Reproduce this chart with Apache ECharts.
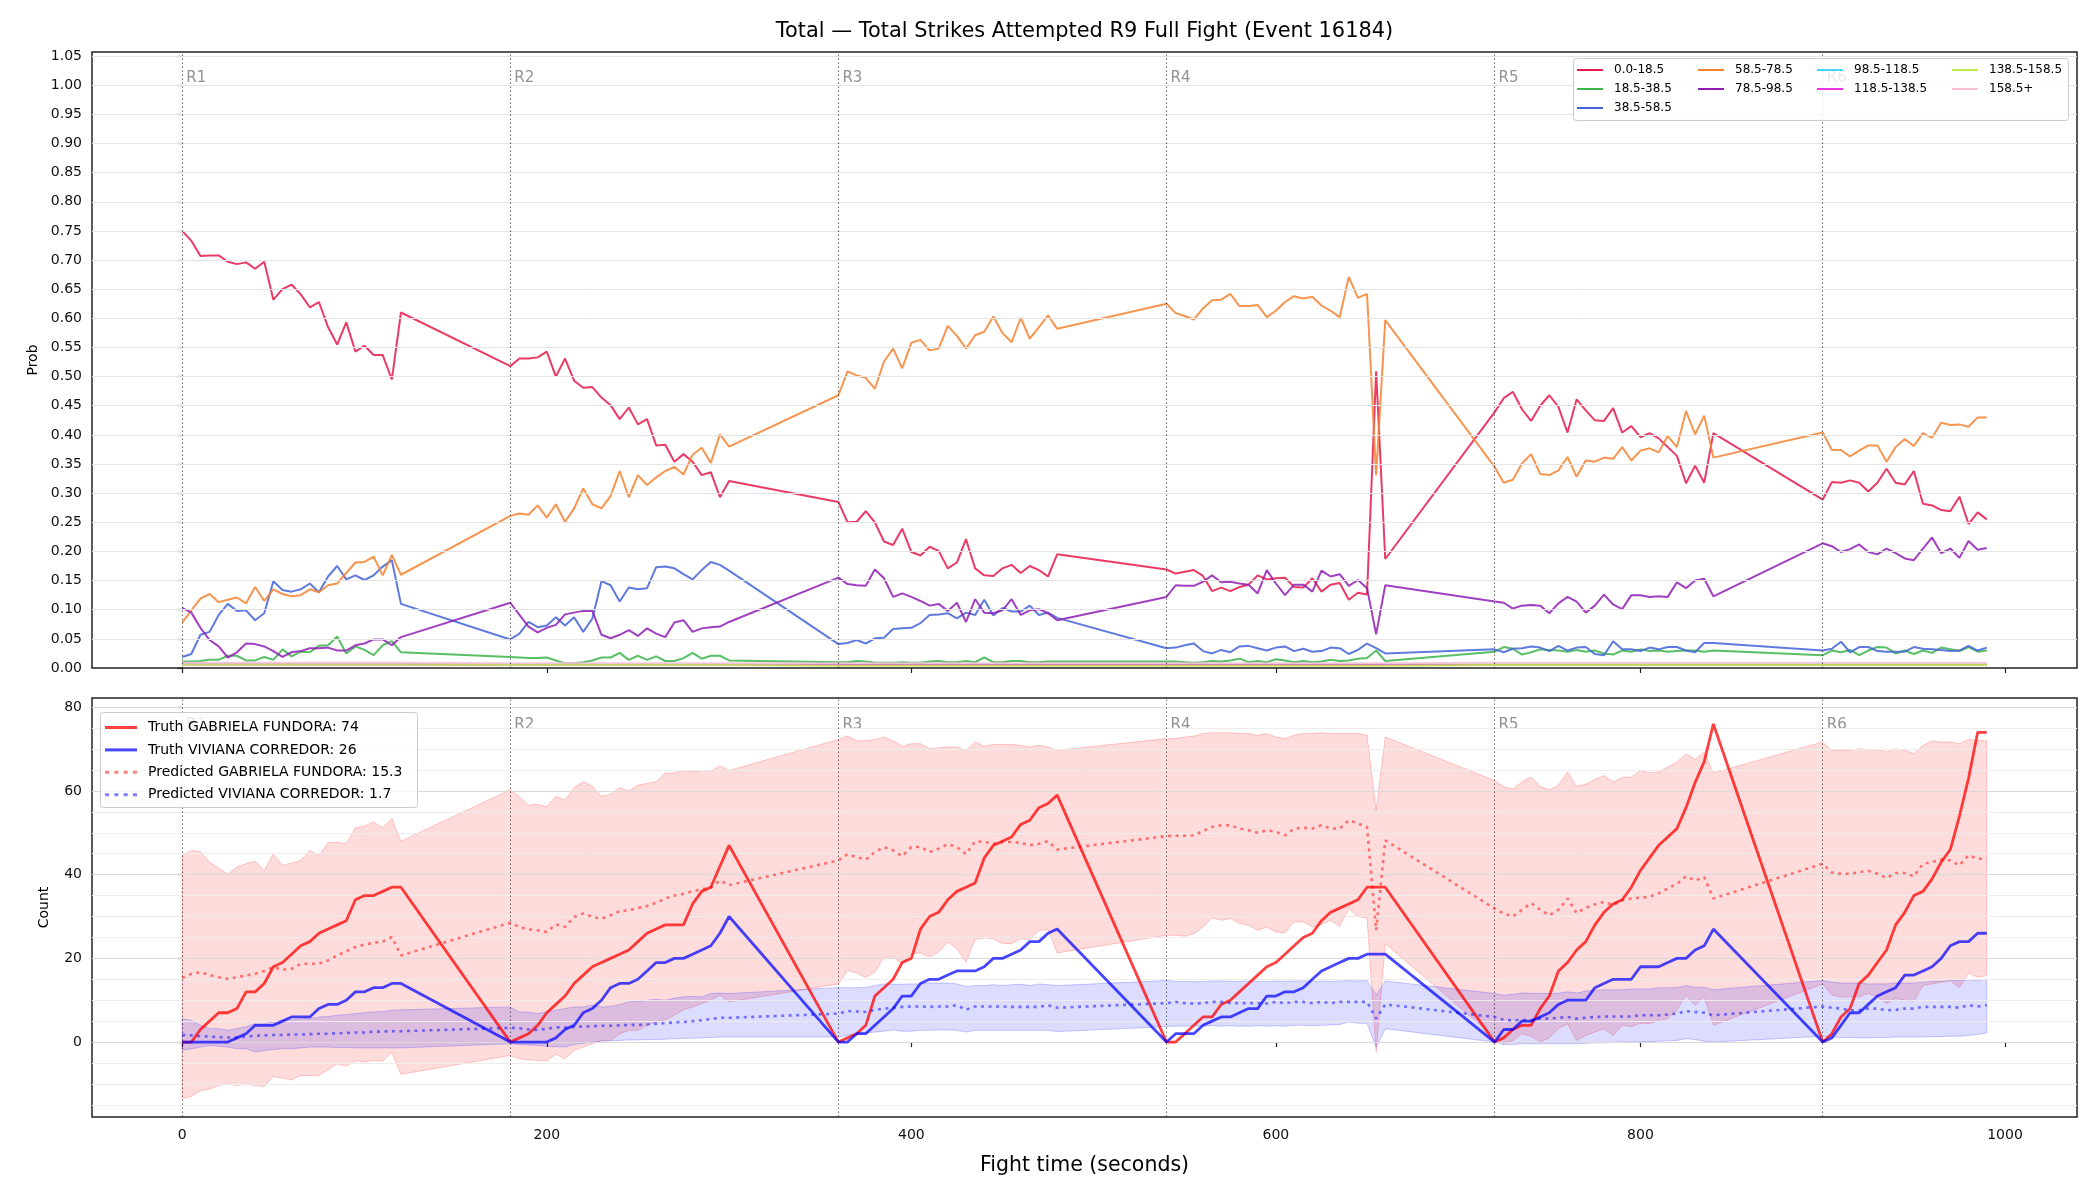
<!DOCTYPE html>
<html><head><meta charset="utf-8">
<script src="https://cdn.jsdelivr.net/npm/echarts@6/dist/echarts.min.js"></script>
<style>html,body{margin:0;padding:0;background:#fff}#c{width:2100px;height:1200px}</style>
</head><body><div id="c"></div>
<script>
// ---------- DATA ----------
const times = [
  0,5,10,15,20,25,30,35,40,45,50,55,60,65,70,75,80,85,90,95,100,105,110,115,120,
  180,185,190,195,200,205,210,215,220,225,230,235,240,245,250,255,260,265,270,275,280,285,290,295,300,
  360,365,370,375,380,385,390,395,400,405,410,415,420,425,430,435,440,445,450,455,460,465,470,475,480,
  540,545,550,555,560,565,570,575,580,585,590,595,600,605,610,615,620,625,630,635,640,645,650,655,660,
  720,725,730,735,740,745,750,755,760,765,770,775,780,785,790,795,800,805,810,815,820,825,830,835,840,
  900,905,910,915,920,925,930,935,940,945,950,955,960,965,970,975,980,985,990
];
const binNames = ['0.0-18.5','18.5-38.5','38.5-58.5','58.5-78.5','78.5-98.5','98.5-118.5','118.5-138.5','138.5-158.5','158.5+'];

const prob_0_18 = [
  0.750,0.733,0.707,0.708,0.708,0.697,0.693,0.696,0.685,0.697,0.632,0.650,0.658,0.641,0.619,0.628,0.585,0.555,0.593,0.543,0.553,0.537,0.537,0.495,0.610,
  0.518,0.531,0.531,0.533,0.543,0.500,0.531,0.493,0.481,0.482,0.464,0.451,0.427,0.447,0.418,0.427,0.382,0.383,0.354,0.367,0.354,0.331,0.336,0.293,0.321,
  0.285,0.250,0.251,0.269,0.250,0.217,0.211,0.239,0.199,0.193,0.208,0.201,0.171,0.181,0.221,0.171,0.159,0.158,0.171,0.177,0.163,0.175,0.168,0.157,0.195,
  0.169,0.162,0.165,0.168,0.158,0.132,0.138,0.132,0.139,0.143,0.159,0.152,0.154,0.155,0.139,0.138,0.154,0.131,0.143,0.146,0.117,0.129,0.126,0.509,0.187,
  0.439,0.463,0.474,0.444,0.424,0.450,0.468,0.448,0.404,0.461,0.442,0.425,0.424,0.446,0.404,0.415,0.396,0.403,0.394,0.379,0.364,0.317,0.347,0.318,0.403,
  0.289,0.319,0.318,0.322,0.318,0.303,0.318,0.342,0.318,0.315,0.338,0.282,0.279,0.271,0.269,0.294,0.247,0.267,0.255
];
const prob_18_38 = [
  0.011,0.011,0.012,0.014,0.014,0.021,0.021,0.013,0.013,0.019,0.014,0.032,0.020,0.028,0.027,0.038,0.039,0.054,0.025,0.037,0.031,0.022,0.039,0.046,0.027,
  0.019,0.018,0.017,0.017,0.018,0.013,0.008,0.008,0.010,0.013,0.018,0.018,0.026,0.014,0.021,0.014,0.020,0.012,0.012,0.017,0.026,0.016,0.021,0.021,0.013,
  0.010,0.010,0.012,0.011,0.009,0.009,0.009,0.010,0.009,0.009,0.011,0.012,0.010,0.010,0.012,0.010,0.018,0.010,0.010,0.012,0.012,0.010,0.010,0.011,0.011,
  0.011,0.011,0.010,0.009,0.010,0.012,0.011,0.013,0.016,0.010,0.012,0.010,0.015,0.013,0.010,0.012,0.010,0.011,0.014,0.012,0.013,0.016,0.017,0.030,0.012,
  0.028,0.036,0.033,0.023,0.027,0.032,0.031,0.030,0.028,0.031,0.028,0.030,0.025,0.023,0.030,0.028,0.032,0.029,0.030,0.028,0.029,0.030,0.030,0.028,0.030,
  0.022,0.030,0.027,0.031,0.022,0.030,0.036,0.035,0.025,0.030,0.024,0.030,0.026,0.035,0.032,0.029,0.036,0.028,0.030
];
const prob_38_58 = [
  0.019,0.024,0.057,0.062,0.091,0.110,0.098,0.099,0.082,0.094,0.149,0.134,0.131,0.135,0.145,0.130,0.157,0.175,0.152,0.159,0.151,0.159,0.174,0.185,0.110,
  0.049,0.059,0.079,0.070,0.073,0.087,0.073,0.087,0.062,0.085,0.149,0.142,0.114,0.138,0.135,0.137,0.173,0.174,0.171,0.161,0.152,0.168,0.182,0.177,0.167,
  0.041,0.043,0.048,0.042,0.051,0.052,0.067,0.068,0.069,0.077,0.091,0.092,0.094,0.085,0.095,0.091,0.117,0.090,0.103,0.097,0.097,0.107,0.091,0.095,0.086,
  0.034,0.035,0.039,0.042,0.029,0.025,0.031,0.027,0.037,0.038,0.034,0.030,0.035,0.037,0.029,0.033,0.028,0.029,0.035,0.034,0.024,0.031,0.042,0.034,0.025,
  0.032,0.027,0.033,0.034,0.037,0.035,0.029,0.038,0.030,0.035,0.036,0.024,0.022,0.046,0.032,0.032,0.029,0.035,0.032,0.036,0.036,0.030,0.027,0.043,0.043,
  0.030,0.033,0.045,0.027,0.036,0.036,0.029,0.028,0.028,0.028,0.036,0.033,0.032,0.031,0.029,0.030,0.038,0.030,0.035
];
const prob_58_78 = [
  0.078,0.099,0.119,0.127,0.113,0.117,0.121,0.111,0.139,0.115,0.135,0.127,0.123,0.125,0.135,0.130,0.142,0.145,0.163,0.181,0.182,0.191,0.159,0.194,0.160,
  0.261,0.265,0.263,0.279,0.258,0.281,0.251,0.274,0.308,0.281,0.274,0.295,0.338,0.293,0.331,0.314,0.327,0.338,0.345,0.332,0.366,0.378,0.352,0.401,0.380,
  0.468,0.509,0.502,0.498,0.479,0.526,0.548,0.514,0.558,0.563,0.545,0.548,0.587,0.570,0.548,0.571,0.577,0.603,0.575,0.559,0.601,0.565,0.585,0.605,0.582,
  0.625,0.609,0.604,0.598,0.617,0.631,0.632,0.642,0.621,0.621,0.623,0.602,0.613,0.628,0.638,0.634,0.637,0.622,0.613,0.602,0.671,0.635,0.642,0.331,0.597,
  0.345,0.318,0.323,0.351,0.367,0.333,0.331,0.339,0.362,0.328,0.356,0.354,0.361,0.359,0.379,0.356,0.373,0.377,0.370,0.398,0.379,0.441,0.401,0.433,0.361,
  0.404,0.374,0.374,0.363,0.373,0.382,0.382,0.354,0.379,0.393,0.381,0.403,0.395,0.421,0.417,0.418,0.414,0.430,0.430
];
const prob_78_98 = [
  0.103,0.095,0.069,0.048,0.037,0.018,0.027,0.042,0.041,0.037,0.029,0.019,0.027,0.029,0.034,0.034,0.035,0.030,0.030,0.039,0.042,0.049,0.049,0.039,0.053,
  0.112,0.091,0.071,0.061,0.069,0.074,0.092,0.095,0.098,0.098,0.057,0.051,0.057,0.065,0.055,0.068,0.059,0.053,0.078,0.082,0.062,0.068,0.070,0.071,0.079,
  0.155,0.144,0.142,0.141,0.169,0.154,0.122,0.128,0.122,0.115,0.107,0.110,0.098,0.112,0.079,0.118,0.095,0.094,0.099,0.118,0.091,0.099,0.101,0.094,0.082,
  0.122,0.142,0.141,0.141,0.148,0.159,0.147,0.148,0.145,0.143,0.128,0.168,0.145,0.125,0.143,0.143,0.131,0.167,0.157,0.161,0.141,0.151,0.137,0.058,0.142,
  0.114,0.112,0.102,0.107,0.108,0.107,0.094,0.111,0.122,0.114,0.095,0.107,0.126,0.109,0.101,0.125,0.125,0.122,0.123,0.122,0.147,0.137,0.150,0.153,0.123,
  0.214,0.209,0.199,0.204,0.212,0.199,0.195,0.205,0.197,0.188,0.185,0.205,0.224,0.197,0.205,0.189,0.218,0.203,0.206
];
const prob_98_118 = [
  0.007,0.007,0.007,0.007,0.007,0.007,0.007,0.007,0.007,0.007,0.007,0.007,0.007,0.007,0.007,0.007,0.007,0.007,0.007,0.007,0.007,0.007,0.007,0.007,0.007,
  0.006,0.006,0.006,0.006,0.006,0.006,0.006,0.006,0.006,0.006,0.006,0.006,0.006,0.006,0.006,0.006,0.006,0.006,0.006,0.006,0.006,0.006,0.006,0.006,0.006,
  0.006,0.006,0.006,0.006,0.006,0.006,0.006,0.006,0.006,0.006,0.006,0.006,0.006,0.006,0.006,0.006,0.006,0.006,0.006,0.006,0.006,0.006,0.006,0.006,0.006,
  0.006,0.006,0.006,0.006,0.006,0.006,0.006,0.006,0.006,0.006,0.006,0.006,0.006,0.006,0.006,0.006,0.006,0.006,0.006,0.006,0.006,0.006,0.006,0.006,0.006,
  0.006,0.006,0.006,0.006,0.006,0.006,0.006,0.006,0.006,0.006,0.006,0.006,0.006,0.006,0.006,0.006,0.006,0.006,0.006,0.006,0.006,0.006,0.006,0.006,0.006,
  0.006,0.006,0.006,0.006,0.006,0.006,0.006,0.006,0.006,0.006,0.006,0.006,0.006,0.006,0.006,0.006,0.006,0.006,0.006
];
const prob_118_138 = [
  0.006,0.006,0.006,0.006,0.006,0.006,0.006,0.006,0.006,0.006,0.006,0.006,0.006,0.006,0.006,0.006,0.006,0.006,0.006,0.006,0.006,0.006,0.006,0.006,0.006,
  0.005,0.005,0.005,0.005,0.005,0.005,0.005,0.005,0.005,0.005,0.005,0.005,0.005,0.005,0.005,0.005,0.005,0.005,0.005,0.005,0.005,0.005,0.005,0.005,0.005,
  0.005,0.005,0.005,0.005,0.005,0.005,0.005,0.005,0.005,0.005,0.005,0.005,0.005,0.005,0.005,0.005,0.005,0.005,0.005,0.005,0.005,0.005,0.005,0.005,0.005,
  0.005,0.005,0.005,0.005,0.005,0.005,0.005,0.005,0.005,0.005,0.005,0.005,0.005,0.005,0.005,0.005,0.005,0.005,0.005,0.005,0.005,0.005,0.005,0.005,0.005,
  0.005,0.005,0.005,0.005,0.005,0.005,0.005,0.005,0.005,0.005,0.005,0.005,0.005,0.005,0.005,0.005,0.005,0.005,0.005,0.005,0.005,0.005,0.005,0.005,0.005,
  0.005,0.005,0.005,0.005,0.005,0.005,0.005,0.005,0.005,0.005,0.005,0.005,0.005,0.005,0.005,0.005,0.005,0.005,0.005
];
const prob_138_158 = [
  0.006,0.006,0.006,0.006,0.006,0.006,0.006,0.006,0.006,0.006,0.006,0.006,0.006,0.006,0.006,0.006,0.006,0.006,0.006,0.006,0.006,0.006,0.006,0.006,0.006,
  0.005,0.005,0.005,0.005,0.005,0.005,0.005,0.005,0.005,0.005,0.005,0.005,0.005,0.005,0.005,0.005,0.005,0.005,0.005,0.005,0.005,0.005,0.005,0.005,0.005,
  0.004,0.004,0.004,0.004,0.004,0.004,0.004,0.004,0.004,0.004,0.004,0.004,0.004,0.004,0.004,0.004,0.004,0.004,0.004,0.004,0.004,0.004,0.004,0.004,0.004,
  0.004,0.004,0.004,0.004,0.004,0.004,0.004,0.004,0.004,0.004,0.004,0.004,0.004,0.004,0.004,0.004,0.004,0.004,0.004,0.004,0.004,0.004,0.004,0.004,0.004,
  0.005,0.005,0.005,0.005,0.005,0.005,0.005,0.005,0.005,0.005,0.005,0.005,0.005,0.005,0.005,0.005,0.005,0.005,0.005,0.005,0.005,0.005,0.005,0.005,0.005,
  0.005,0.005,0.005,0.005,0.005,0.005,0.005,0.005,0.005,0.005,0.005,0.005,0.005,0.005,0.005,0.005,0.005,0.005,0.005
];
const prob_158_plus = [
  0.009,0.009,0.009,0.009,0.009,0.009,0.009,0.009,0.009,0.009,0.009,0.009,0.009,0.009,0.009,0.009,0.009,0.009,0.009,0.009,0.009,0.009,0.009,0.009,0.009,
  0.008,0.008,0.008,0.008,0.008,0.008,0.008,0.008,0.008,0.008,0.008,0.008,0.008,0.008,0.008,0.008,0.008,0.008,0.008,0.008,0.008,0.008,0.008,0.008,0.008,
  0.008,0.008,0.008,0.008,0.008,0.008,0.008,0.008,0.008,0.008,0.008,0.008,0.008,0.008,0.008,0.008,0.008,0.008,0.008,0.008,0.008,0.008,0.008,0.008,0.008,
  0.008,0.008,0.008,0.008,0.008,0.008,0.008,0.008,0.008,0.008,0.008,0.008,0.008,0.008,0.008,0.008,0.008,0.008,0.008,0.008,0.008,0.008,0.008,0.008,0.008,
  0.009,0.009,0.009,0.009,0.009,0.009,0.009,0.009,0.009,0.009,0.009,0.009,0.009,0.009,0.009,0.009,0.009,0.009,0.009,0.009,0.009,0.009,0.009,0.009,0.009,
  0.009,0.009,0.009,0.009,0.009,0.009,0.009,0.009,0.009,0.009,0.009,0.009,0.009,0.009,0.009,0.009,0.009,0.009,0.009
];

const truthFundora = [
  0,0,3,5,7,7,8,12,12,14,18,19,21,23,24,26,27,28,29,34,35,35,36,37,37,
  0,1,2,4,7,9,11,14,16,18,19,20,21,22,24,26,27,28,28,28,33,36,37,42,47,
  0,1,2,4,11,13,15,19,20,27,30,31,34,36,37,38,44,47,48,49,52,53,56,57,59,
  0,0,2,4,6,6,9,10,12,14,16,18,19,21,23,25,26,29,31,32,33,34,37,37,37,
  0,1,3,4,4,8,11,17,19,22,24,28,31,33,34,37,41,44,47,49,51,56,62,67,76,
  0,2,6,8,14,16,19,22,28,31,35,36,39,43,46,54,63,74,74
];
const truthCorredor = [
  0,0,0,0,0,0,1,2,4,4,4,5,6,6,6,8,9,9,10,12,12,13,13,14,14,
  0,0,0,0,0,1,3,4,7,8,10,13,14,14,15,17,19,19,20,20,21,22,23,26,30,
  0,0,2,2,4,6,8,11,11,14,15,15,16,17,17,17,18,20,20,21,22,24,24,26,27,
  0,2,2,2,4,5,6,6,7,8,8,11,11,12,12,13,15,17,18,19,20,20,21,21,21,
  0,3,3,5,5,6,7,9,10,10,10,13,14,15,15,15,18,18,18,19,20,20,22,23,27,
  0,1,4,7,7,9,11,12,13,16,16,17,18,20,23,24,24,26,26
];
const predFundora = [
  15.3,16.3,16.7,16.0,15.5,15.1,15.5,15.9,16.3,17.0,17.9,17.3,17.5,18.7,18.7,18.7,19.5,20.7,21.7,22.7,23.3,23.7,24.0,25.1,20.7,
  28.5,27.5,26.9,26.7,26.3,28.1,27.5,29.9,30.7,29.9,29.5,30.3,31.3,31.5,32.0,32.5,33.3,34.3,35.0,35.4,36.0,36.5,36.9,38.6,37.5,
  43.4,44.9,44.2,43.6,45.4,46.6,45.8,44.4,46.6,46.6,45.4,46.2,47.3,46.6,44.9,48.0,47.8,47.4,47.8,47.8,47.6,47.0,47.4,48.0,46.0,
  49.2,49.3,49.3,49.4,50.4,51.4,51.8,51.8,51.0,50.6,50.0,50.6,50.2,49.4,51.0,51.2,51.0,51.8,51.0,51.0,53.0,52.2,51.4,26.7,48.2,
  31.9,30.7,30.0,31.6,33.2,31.6,30.3,31.6,34.3,30.8,32.1,32.9,33.5,32.7,33.9,34.3,34.5,34.7,35.5,36.7,37.8,39.6,38.6,39.4,34.3,
  42.6,40.5,40.2,40.2,40.6,40.9,40.2,39.2,40.4,40.4,39.6,42.6,43.0,43.6,43.4,42.2,44.6,43.8,43.8
];
const predCorredor = [
  1.7,1.6,1.4,1.3,1.2,1.1,1.1,1.3,1.5,1.6,1.7,1.7,1.8,1.8,1.9,2.0,2.0,2.1,2.2,2.3,2.3,2.5,2.5,2.6,2.6,
  3.4,3.3,3.0,2.9,3.2,3.5,3.5,3.6,3.7,3.8,3.9,3.9,4.0,4.1,4.1,4.2,4.4,4.5,4.7,4.8,5.0,5.2,5.5,5.8,5.8,
  6.8,7.4,7.3,7.2,7.7,8.0,8.2,8.4,8.5,8.5,8.4,8.5,8.5,8.8,7.7,8.5,8.5,8.5,8.5,8.4,8.4,8.4,8.4,8.8,8.2,
  9.3,9.6,9.3,9.2,9.3,9.6,9.6,9.3,9.3,9.3,9.3,9.2,9.6,9.3,9.6,9.6,9.3,9.6,9.3,9.6,9.6,9.6,9.6,5.6,9.0,
  6.0,5.3,5.2,5.3,5.2,5.6,5.6,5.8,6.0,5.6,5.8,6.0,6.1,6.1,6.1,6.1,6.4,6.4,6.4,6.6,6.8,7.4,7.2,7.0,6.4,
  8.5,8.2,8.0,7.6,7.6,8.0,8.0,7.6,7.7,8.0,8.0,8.4,8.4,8.4,8.4,8.2,8.8,8.5,8.8
];
const upperFundora = [
  44.6,45.8,45.4,43.0,41.5,40.1,41.8,42.6,43.2,41.0,44.9,42.2,42.8,43.4,45.8,44.6,47.6,47.8,47.4,51.2,51.6,52.6,51.2,53.4,48.0,
  60.3,58.6,56.6,56.8,56.2,58.7,57.8,60.8,62.2,61.1,58.7,59.2,60.8,60.0,61.4,61.8,62.2,64.3,64.3,64.9,64.5,64.9,64.8,65.9,64.9,
  72.3,73.1,72.0,72.0,72.3,72.9,72.0,70.7,71.3,71.3,70.1,70.3,70.5,70.5,69.6,71.7,70.7,71.1,71.1,71.1,70.9,70.5,70.9,70.5,69.7,
  72.5,72.5,72.9,73.1,73.7,73.9,73.9,73.9,73.7,73.7,73.3,73.7,72.9,72.5,73.3,73.7,73.7,73.9,73.7,73.7,73.7,73.7,73.3,55.4,72.9,
  62.5,61.0,60.4,62.2,63.3,61.1,60.2,61.4,64.5,61.1,61.6,62.7,63.7,62.2,63.2,63.3,64.9,64.3,64.5,65.7,66.9,68.9,67.5,69.3,64.3,
  71.7,69.6,69.7,69.7,70.1,69.9,69.9,69.3,70.1,69.7,68.9,70.9,71.9,71.7,71.7,71.3,72.3,72.1,71.9
];
const lowerFundora = [
  -13.5,-13.0,-11.6,-11.2,-10.4,-10.0,-10.4,-10.1,-10.4,-10.6,-8.2,-8.6,-9.0,-8.0,-8.0,-8.0,-6.6,-5.2,-5.8,-4.4,-4.8,-4.4,-4.6,-2.4,-7.7,
  -3.2,-4.0,-4.2,-4.4,-4.5,-2.9,-4.0,-2.0,-1.2,-0.4,0.4,0.4,2.0,2.8,2.8,4.0,4.8,5.3,6.4,7.7,8.4,9.2,10.0,11.2,9.6,
  13.9,17.1,16.5,15.4,16.7,20.3,20.3,18.7,21.1,21.3,20.3,21.5,23.9,22.3,19.1,24.5,24.9,24.7,23.5,23.5,24.7,24.5,26.7,26.9,21.3,
  25.5,25.5,25.3,25.9,27.5,29.7,29.1,29.5,28.3,27.9,26.7,27.5,26.3,26.1,28.7,28.7,27.5,28.1,29.1,27.6,31.9,29.9,29.7,-2.4,23.5,
  1.2,-0.4,0.4,2.0,1.4,0.0,1.0,3.2,4.4,0.4,1.6,2.4,3.2,1.6,4.0,3.7,4.5,4.4,5.2,5.6,7.6,11.2,8.8,10.8,4.0,
  13.9,11.2,10.8,10.8,10.8,11.6,10.8,9.2,10.4,10.0,9.8,13.5,13.9,14.3,14.7,13.0,16.5,15.5,15.9
];
const upperCorredor = [
  5.6,5.2,4.0,3.2,3.2,2.8,3.2,3.7,4.4,4.4,4.8,5.2,5.3,5.6,5.6,6.0,6.1,6.4,6.6,6.8,7.0,7.2,7.3,7.6,7.7,
  8.4,7.2,7.2,6.8,7.2,7.6,8.0,8.4,8.4,8.8,8.4,8.5,9.0,9.6,9.7,10.0,10.2,10.0,10.5,10.8,10.9,10.8,11.6,11.7,11.6,
  13.0,13.0,13.0,13.1,13.5,13.9,13.8,13.8,13.9,13.9,14.1,14.1,14.1,13.9,13.3,13.5,13.5,13.7,13.5,13.7,13.8,13.5,13.9,13.7,13.5,
  14.7,14.5,14.5,14.4,14.5,14.6,14.6,14.5,14.5,14.6,14.5,14.5,14.6,14.5,14.6,14.6,14.5,14.6,14.5,14.6,14.7,14.6,14.7,11.2,14.6,
  11.6,11.2,11.4,11.7,11.7,11.6,11.6,11.7,12.0,11.7,12.2,12.4,12.5,12.5,12.5,12.7,12.7,12.7,13.0,13.0,13.0,13.5,13.1,13.1,12.5,
  14.7,14.3,14.1,14.1,14.1,13.9,13.9,13.9,14.1,14.1,14.1,14.3,14.5,14.5,14.7,14.7,14.9,14.7,15.1
];
const lowerCorredor = [
  -2.0,-1.6,-1.2,-0.8,-1.0,-1.2,-1.6,-1.6,-2.4,-2.0,-1.8,-1.6,-1.6,-1.4,-1.2,-1.2,-1.2,-1.3,-1.3,-1.4,-1.4,-1.4,-1.4,-1.4,-1.4,
  -0.4,-0.6,-0.7,-0.8,-1.0,-1.1,-1.2,-0.6,-0.3,0.0,0.2,0.3,0.4,0.5,0.5,0.6,0.6,0.7,0.8,0.9,0.9,1.0,1.1,1.2,1.2,
  1.2,1.6,2.0,2.2,2.4,2.6,2.9,2.6,2.6,2.8,2.8,2.9,2.9,2.8,2.4,2.8,2.8,2.8,2.8,2.8,2.8,2.8,2.8,2.8,2.5,
  3.7,3.8,3.8,3.9,3.8,3.9,3.8,3.9,3.8,3.8,3.9,3.8,3.9,3.8,4.0,4.0,3.9,4.0,4.1,4.2,4.8,4.5,4.5,-1.2,3.2,
  0.0,-0.6,-0.6,-0.4,-0.4,-0.4,-0.4,-0.4,-0.4,-0.4,-0.3,-0.2,-0.2,-0.1,0.0,0.0,0.1,0.1,0.2,0.3,0.4,0.8,0.6,0.2,0.0,
  1.4,1.2,1.1,1.1,1.0,1.0,1.1,1.1,1.2,1.2,1.2,1.2,1.3,1.3,1.4,1.4,1.6,1.8,2.2
];

const roundStarts = [0, 180, 360, 540, 720, 900];
const roundLabels = ['R1','R2','R3','R4','R5','R6'];
const xTicks = [0, 200, 400, 600, 800, 1000];
const probTicks = [0,0.05,0.1,0.15,0.2,0.25,0.3,0.35,0.4,0.45,0.5,0.55,0.6,0.65,0.7,0.75,0.8,0.85,0.9,0.95,1.0,1.05];
const countTicks = [0, 20, 40, 60, 80];
const countMinorTicks = [-15,-10,-5,5,10,15,25,30,35,45,50,55,65,70,75];
const legendTruthF = 'Truth GABRIELA FUNDORA: 74';
const legendTruthC = 'Truth VIVIANA CORREDOR: 26';
const legendPredF = 'Predicted GABRIELA FUNDORA: 15.3';
const legendPredC = 'Predicted VIVIANA CORREDOR: 1.7';

// ---------- CHART ----------
const FONT = 'DejaVu Sans';
const binColors = ['#e6194B','#3cb44b','#4363d8','#f58231','#911eb4','#42d4f4','#f032e6','#bfef45','#fabed4'];
const binData = [prob_0_18, prob_18_38, prob_38_58, prob_58_78, prob_78_98, prob_98_118, prob_118_138, prob_138_158, prob_158_plus];
const zip = arr => times.map((t, i) => [t, arr[i]]);
const DOT_ICON = 'path://M0,0h4v3h-4z M9.3,0h4v3h-4z M18.6,0h4v3h-4z M27.9,0h4v3h-4z';

const series = [];
series.push({
  type: 'line', xAxisIndex: 0, yAxisIndex: 0, data: [], z: 1, silent: true,
  markLine: {
    silent: true, symbol: ['none','none'], animation: false, label: {show: false},
    data: probTicks.filter(v => v > 0).map(v => ({yAxis: v, lineStyle: {color: '#e4e4e4', width: 1, type: 'solid'}}))
      .concat(roundStarts.map(v => ({xAxis: v, lineStyle: {color: 'rgba(0,0,0,0.55)', width: 1.1, type: [1.5, 2.5]}})))
  }
});
series.push({
  type: 'line', xAxisIndex: 1, yAxisIndex: 1, data: [], z: 1, silent: true,
  markLine: {
    silent: true, symbol: ['none','none'], animation: false, label: {show: false},
    data: countMinorTicks.map(v => ({yAxis: v, lineStyle: {color: '#ededed', width: 1, type: 'solid'}}))
      .concat(countTicks.map(v => ({yAxis: v, lineStyle: {color: '#dadada', width: 1, type: 'solid'}})))
      .concat(roundStarts.map(v => ({xAxis: v, lineStyle: {color: 'rgba(0,0,0,0.55)', width: 1.1, type: [1.5, 2.5]}})))
  }
});
series.push({
  type: 'scatter', xAxisIndex: 0, yAxisIndex: 0, symbolSize: 0, z: 3, silent: true,
  data: roundStarts.map((t, i) => ({value: [t, 1.013], name: roundLabels[i]})),
  label: {show: true, position: 'right', distance: 4, formatter: p => p.name, color: '#777', fontSize: 15, fontFamily: FONT}
});
series.push({
  type: 'scatter', xAxisIndex: 1, yAxisIndex: 1, symbolSize: 0, z: 3, silent: true,
  data: roundStarts.map((t, i) => ({value: [t, 75.8], name: roundLabels[i]})),
  label: {show: true, position: 'right', distance: 4, formatter: p => p.name, color: '#777', fontSize: 15, fontFamily: FONT}
});
binNames.forEach((n, i) => {
  series.push({
    name: n, type: 'line', xAxisIndex: 0, yAxisIndex: 0, data: zip(binData[i]),
    symbol: 'none', z: 4, color: binColors[i],
    lineStyle: {color: binColors[i], width: 2, opacity: 0.85},
    emphasis: {disabled: true}
  });
});
function bandSeries(lower, upper, rgb) {
  return {
    type: 'custom', xAxisIndex: 1, yAxisIndex: 1, z: 3, silent: true, clip: true,
    data: [[times[0], lower[0]]],
    renderItem: (params, api) => {
      const top = times.map((t, i) => api.coord([t, upper[i]]));
      const bot = times.map((t, i) => api.coord([t, lower[i]])).reverse();
      return {
        type: 'polygon', shape: {points: top.concat(bot)},
        style: {fill: 'rgba(' + rgb + ',0.137)', stroke: 'rgba(' + rgb + ',0.2)', lineWidth: 1}
      };
    }
  };
}
series.push(bandSeries(lowerFundora, upperFundora, '255,0,0'));
series.push(bandSeries(lowerCorredor, upperCorredor, '0,0,255'));
series.push({name: legendTruthF, type: 'line', xAxisIndex: 1, yAxisIndex: 1, data: zip(truthFundora), symbol: 'none', z: 5,
  color: 'rgba(255,0,0,0.75)', lineStyle: {color: 'rgba(255,0,0,0.75)', width: 2.8}, emphasis: {disabled: true}});
series.push({name: legendTruthC, type: 'line', xAxisIndex: 1, yAxisIndex: 1, data: zip(truthCorredor), symbol: 'none', z: 5,
  color: 'rgba(0,0,255,0.72)', lineStyle: {color: 'rgba(0,0,255,0.72)', width: 2.8}, emphasis: {disabled: true}});
series.push({name: legendPredF, type: 'line', xAxisIndex: 1, yAxisIndex: 1, data: zip(predFundora), symbol: 'none', z: 5,
  color: 'rgba(255,0,0,0.5)', lineStyle: {color: 'rgba(255,0,0,0.5)', width: 2.6, type: [3, 4.5]}, emphasis: {disabled: true}});
series.push({name: legendPredC, type: 'line', xAxisIndex: 1, yAxisIndex: 1, data: zip(predCorredor), symbol: 'none', z: 5,
  color: 'rgba(0,0,255,0.5)', lineStyle: {color: 'rgba(0,0,255,0.5)', width: 2.6, type: [3, 4.5]}, emphasis: {disabled: true}});

const tickStyle = {show: true, length: 5, inside: false, lineStyle: {color: '#222', width: 1.2}};
const labelStyle = {color: '#111', fontSize: 14, fontFamily: FONT};

const topLegendCommon = {
  orient: 'vertical', padding: 0, itemWidth: 26, itemHeight: 2, itemGap: 5, top: 63,
  selectedMode: false, z: 70, icon: 'rect', itemStyle: {borderWidth: 0},
  textStyle: {fontSize: 12, lineHeight: 14, color: '#000', fontFamily: FONT, padding: [0, 0, 0, 6]}
};

const option = {
  animation: false,
  backgroundColor: '#fff',
  title: {
    text: 'Total — Total Strikes Attempted R9 Full Fight (Event 16184)',
    left: 1084.5, textAlign: 'center', top: 21, padding: 0,
    textStyle: {fontSize: 20.9, fontWeight: 'normal', color: '#000', fontFamily: FONT}
  },
  graphic: [
    {type: 'rect', left: 1573, top: 58, z: 50, silent: true,
     shape: {width: 495, height: 62, r: 3}, style: {fill: 'rgba(255,255,255,0.8)', stroke: '#cccccc', lineWidth: 1}},
    {type: 'rect', left: 100, top: 712, z: 50, silent: true,
     shape: {width: 317, height: 95, r: 3}, style: {fill: 'rgba(255,255,255,0.8)', stroke: '#cccccc', lineWidth: 1}}
  ],
  legend: [
    Object.assign({}, topLegendCommon, {left: 1577, data: binNames.slice(0, 3)}),
    Object.assign({}, topLegendCommon, {left: 1698, data: binNames.slice(3, 5)}),
    Object.assign({}, topLegendCommon, {left: 1817, data: binNames.slice(5, 7)}),
    Object.assign({}, topLegendCommon, {left: 1952, data: binNames.slice(7, 9)}),
    {orient: 'vertical', padding: 0, left: 105, top: 719, itemWidth: 32, itemHeight: 3, itemGap: 5.4,
     selectedMode: false, z: 70, itemStyle: {borderWidth: 0},
     data: [
       {name: legendTruthF, icon: 'rect'},
       {name: legendTruthC, icon: 'rect'},
       {name: legendPredF, icon: DOT_ICON},
       {name: legendPredC, icon: DOT_ICON}
     ],
     textStyle: {fontSize: 14, lineHeight: 17, color: '#000', fontFamily: FONT, padding: [0, 0, 0, 6]}}
  ],
  grid: [
    {left: 92, right: 23, top: 52, height: 616, show: true, borderColor: '#222', borderWidth: 1.5, backgroundColor: 'transparent'},
    {left: 92, right: 23, top: 698, height: 419, show: true, borderColor: '#222', borderWidth: 1.5, backgroundColor: 'transparent'}
  ],
  xAxis: [
    {type: 'value', gridIndex: 0, min: -49.5, max: 1039.5,
     axisLine: {show: false}, splitLine: {show: false},
     axisTick: Object.assign({}, tickStyle, {customValues: xTicks}),
     axisLabel: {show: false}},
    {type: 'value', gridIndex: 1, min: -49.5, max: 1039.5,
     axisLine: {show: false}, splitLine: {show: false},
     axisTick: Object.assign({}, tickStyle, {customValues: xTicks}),
     axisLabel: Object.assign({}, labelStyle, {customValues: xTicks, margin: 11, formatter: v => String(v)}),
     name: 'Fight time (seconds)', nameLocation: 'middle', nameGap: 38,
     nameTextStyle: {fontSize: 20.5, color: '#000', fontFamily: FONT}}
  ],
  yAxis: [
    {type: 'value', gridIndex: 0, min: 0, max: 1.057,
     axisLine: {show: false}, splitLine: {show: false},
     axisTick: Object.assign({}, tickStyle, {customValues: probTicks}),
     axisLabel: Object.assign({}, labelStyle, {customValues: probTicks, margin: 10, formatter: v => v.toFixed(2)}),
     name: 'Prob', nameLocation: 'middle', nameGap: 52,
     nameTextStyle: {fontSize: 14, color: '#000', fontFamily: FONT}},
    {type: 'value', gridIndex: 1, min: -17.9, max: 82.2,
     axisLine: {show: false}, splitLine: {show: false},
     axisTick: Object.assign({}, tickStyle, {customValues: countTicks}),
     axisLabel: Object.assign({}, labelStyle, {customValues: countTicks, margin: 10}),
     name: 'Count', nameLocation: 'middle', nameGap: 41,
     nameTextStyle: {fontSize: 14, color: '#000', fontFamily: FONT}}
  ],
  series: series
};

const chart = echarts.init(document.getElementById('c'), null, {renderer: 'canvas', width: 2100, height: 1200});
chart.setOption(option);
</script>
</body></html>
